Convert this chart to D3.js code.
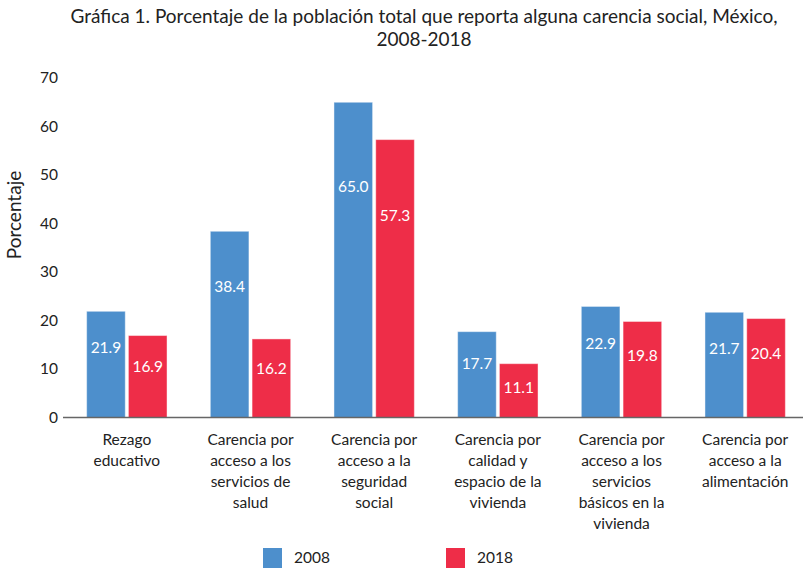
<!DOCTYPE html>
<html>
<head>
<meta charset="utf-8">
<script src="https://cdn.jsdelivr.net/npm/d3@7"></script>
<style>
  body { margin: 0; background: #fff; }
  svg { display: block; font-family: Lato, "Open Sans", sans-serif; }
</style>
</head>
<body>
<svg id="chart" width="803" height="568"></svg>
<script>
const categories = [
  ['Rezago', 'educativo'],
  ['Carencia por', 'acceso a los', 'servicios de', 'salud'],
  ['Carencia por', 'acceso a la', 'seguridad', 'social'],
  ['Carencia por', 'calidad y', 'espacio de la', 'vivienda'],
  ['Carencia por', 'acceso a los', 'servicios', 'básicos en la', 'vivienda'],
  ['Carencia por', 'acceso a la', 'alimentación']
];
const years = ['2008', '2018'];
const values2008 = [21.9, 38.4, 65.0, 17.7, 22.9, 21.7];
const values2018 = [16.9, 16.2, 57.3, 11.1, 19.8, 20.4];
const yTicks = [0, 10, 20, 30, 40, 50, 60, 70];

const colors = { '2008': '#4d8fcc', '2018': '#ee2d48' };

const svg = d3.select('#chart');

const rows = categories.map((c, i) => ({
  idx: i,
  lines: c,
  bars: [
    { year: '2008', value: values2008[i] },
    { year: '2018', value: values2018[i] }
  ]
}));

const x0 = d3.scaleBand()
  .domain(d3.range(categories.length))
  .range([65, 807])
  .paddingInner(0.35)
  .paddingOuter(0.175);

const x1 = d3.scaleBand()
  .domain(years)
  .range([0, x0.bandwidth()])
  .paddingInner(0.075);

const y = d3.scaleLinear()
  .domain([0, 70])
  .range([417.5, 78]);

// title
svg.append('text')
  .attr('x', 424)
  .attr('y', 23)
  .attr('text-anchor', 'middle')
  .style('font-size', '19px')
  .style('fill', '#222')
  .selectAll('tspan')
  .data(['Gráfica 1. Porcentaje de la población total que reporta alguna carencia social, México,', '2008-2018'])
  .enter().append('tspan')
  .attr('x', 424)
  .attr('dy', (d, i) => i ? 23 : 0)
  .text(d => d);

// y tick labels (no axis line)
svg.append('g')
  .selectAll('text')
  .data(yTicks)
  .enter().append('text')
  .attr('x', 58)
  .attr('y', d => y(d))
  .attr('dy', '0.35em')
  .attr('text-anchor', 'end')
  .style('font-size', '15.5px')
  .style('fill', '#222')
  .text(d => d);

svg.append('text')
  .attr('transform', 'translate(21,215) rotate(-90)')
  .attr('text-anchor', 'middle')
  .style('font-size', '19px')
  .style('fill', '#222')
  .text('Porcentaje');

const groups = svg.append('g')
  .selectAll('g')
  .data(rows)
  .enter().append('g')
  .attr('transform', d => `translate(${x0(d.idx)},0)`);

groups.selectAll('rect')
  .data(d => d.bars)
  .enter().append('rect')
  .attr('x', d => x1(d.year))
  .attr('y', d => y(d.value))
  .attr('width', x1.bandwidth())
  .attr('height', d => y(0) - y(d.value))
  .style('fill', d => colors[d.year])
  .style('stroke', 'rgba(255,255,255,0.45)')
  .style('stroke-width', 1);

groups.selectAll('text.val')
  .data(d => d.bars)
  .enter().append('text')
  .attr('class', 'val')
  .attr('x', d => x1(d.year) + x1.bandwidth() / 2)
  .attr('y', d => y(d.value * 0.77) + 12)
  .attr('dy', '0.35em')
  .attr('text-anchor', 'middle')
  .style('font-size', '15.5px')
  .style('fill', '#fff')
  .text(d => d.value.toFixed(1));

// baseline
svg.append('line')
  .attr('x1', 63)
  .attr('x2', 803)
  .attr('y1', y(0))
  .attr('y2', y(0))
  .style('stroke', '#666')
  .style('stroke-width', 1.5);

// category labels
groups.append('text')
  .attr('text-anchor', 'middle')
  .style('font-size', '15.5px')
  .style('fill', '#222')
  .selectAll('tspan')
  .data(d => d.lines)
  .enter().append('tspan')
  .attr('x', x0.bandwidth() / 2)
  .attr('y', (d, i) => 445 + i * 21)
  .text(d => d);

// legend
const legend = svg.append('g')
  .selectAll('g')
  .data(years)
  .enter().append('g')
  .attr('transform', (d, i) => `translate(${263 + i * 183},548)`);

legend.append('rect')
  .attr('width', 19)
  .attr('height', 20)
  .style('fill', d => colors[d]);

legend.append('text')
  .attr('x', 31)
  .attr('y', 15)
  .style('font-size', '15.5px')
  .style('fill', '#222')
  .text(d => d);
</script>
</body>
</html>
